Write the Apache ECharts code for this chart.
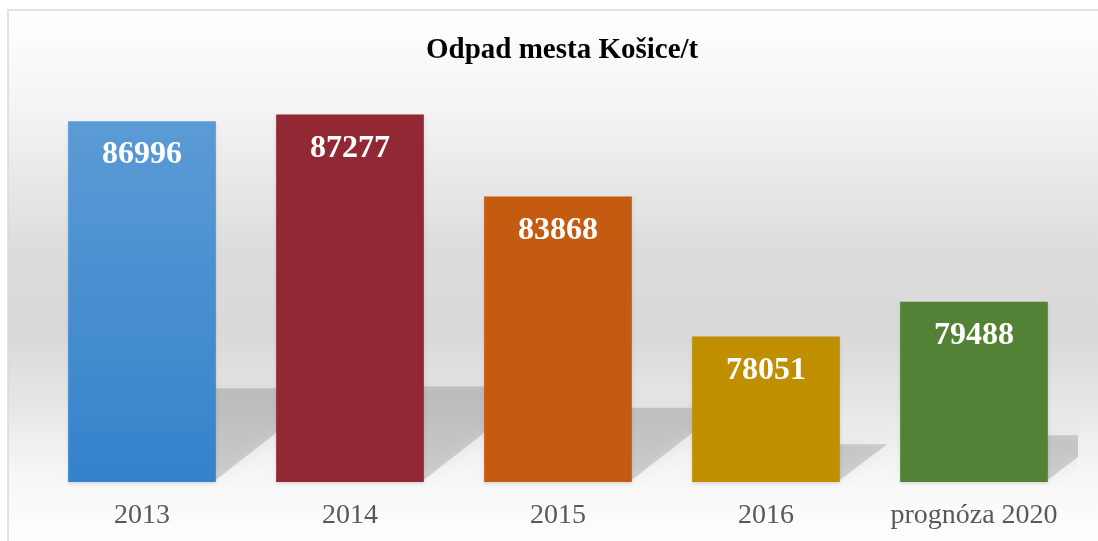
<!DOCTYPE html>
<html>
<head>
    <meta charset="utf-8">
    <title>Odpad mesta Košice</title>
    <script src="https://cdn.jsdelivr.net/npm/echarts@6/dist/echarts.min.js"></script>
</head>
<body style="margin:0">
<div id="container" style="width: 1098px;height: 541px;"></div>
<script type="text/javascript">
    // roky
    var years = ['2013', '2014', '2015', '2016', 'prognóza 2020'];
    // odpad v tonach
    var values = [86996, 87277, 83868, 78051, 79488];
    // farby stlpcov
    var colors = ['#5b9bd5', '#922833', '#c55a11', '#bf8f00', '#538135'];
    var axisMin = 72000;
    var axisMax = 88000;

    var dom = document.getElementById("container");
    var myChart = echarts.init(dom);

    var barData = [];
    var shadowData = [];
    for (var i = 0; i < values.length; i++) {
        var col = colors[i];
        if (i == 0) {
            col = new echarts.graphic.LinearGradient(0, 0, 0, 1, [
                {offset: 0, color: '#5b9bd5'},
                {offset: 1, color: '#3482cb'}
            ]);
        }
        barData.push({value: values[i], itemStyle: {color: col}});
        shadowData.push([i, values[i]]);
    }

    var option = {
        animation: false,
        graphic: [
            {
                type: 'rect',
                z: -10,
                shape: {x: 8, y: 10, width: 1100, height: 540},
                style: {
                    fill: new echarts.graphic.LinearGradient(0, 0, 0, 1, [
                        {offset: 0, color: '#ffffff'},
                        {offset: 0.17, color: '#f5f5f5'},
                        {offset: 0.45, color: '#dcdcdc'},
                        {offset: 0.6, color: '#d9d9d9'},
                        {offset: 0.73, color: '#e6e6e6'},
                        {offset: 0.86, color: '#f7f7f7'},
                        {offset: 1, color: '#ffffff'}
                    ]),
                    stroke: '#d9d9d9',
                    lineWidth: 1.5
                }
            }
        ],
        title: {
            text: 'Odpad mesta Košice/t',
            left: 421,
            top: 31,
            textStyle: {
                fontFamily: 'Liberation Serif',
                fontWeight: 'bold',
                fontSize: 29,
                color: '#000'
            }
        },
        grid: {
            left: 38,
            right: 20,
            top: 97,
            bottom: 59
        },
        xAxis: {
            type: 'category',
            data: years,
            axisLine: {show: false},
            axisTick: {show: false},
            axisLabel: {
                interval: 0,
                margin: 20,
                fontFamily: 'Liberation Serif',
                fontSize: 28,
                color: '#595959'
            }
        },
        yAxis: {
            type: 'value',
            min: axisMin,
            max: axisMax,
            show: false,
            splitLine: {show: false}
        },
        series: [
            { // tien za stlpcami
                type: 'custom',
                clip: true,
                z: 1,
                data: shadowData,
                renderItem: function (params, api) {
                    var base = api.coord([api.value(0), axisMin]);
                    var top = api.coord([api.value(0), api.value(1)]);
                    var band = api.size([1, 0])[0];
                    var half = band * 0.71 / 2;
                    var sh = (base[1] - top[1]) * 0.26;
                    var dx = sh * 1.25;
                    return {
                        type: 'polygon',
                        shape: {
                            points: [
                                [base[0] - half, base[1] - 2],
                                [base[0] + half, base[1] - 2],
                                [base[0] + half + dx, base[1] - sh],
                                [base[0] - half + dx, base[1] - sh]
                            ]
                        },
                        style: {
                            fill: 'rgba(0,0,0,0.14)',
                            shadowBlur: 14,
                            shadowColor: 'rgba(0,0,0,0.3)'
                        }
                    };
                }
            },
            {
                type: 'bar',
                z: 2,
                barCategoryGap: '29%',
                data: barData,
                itemStyle: {
                    shadowBlur: 3,
                    shadowOffsetY: 2,
                    shadowColor: 'rgba(0,0,0,0.12)'
                },
                label: {
                    show: true,
                    position: 'insideTop',
                    distance: 18,
                    fontFamily: 'Liberation Serif',
                    fontWeight: 'bold',
                    fontSize: 32,
                    color: '#ffffff'
                }
            }
        ]
    };

    myChart.setOption(option, true);
</script>
</body>
</html>
